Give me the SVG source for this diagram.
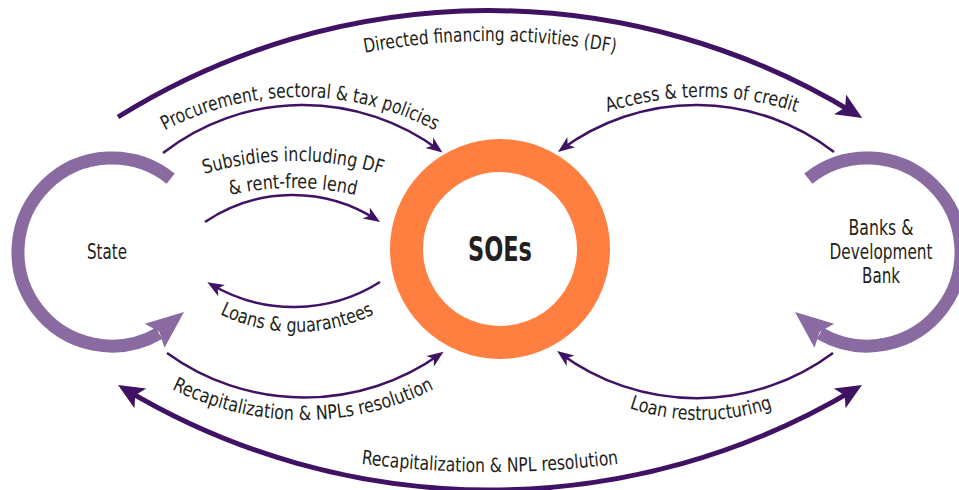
<svg xmlns="http://www.w3.org/2000/svg" xmlns:xlink="http://www.w3.org/1999/xlink" width="959" height="490" viewBox="0 0 959 490">
<style>
.lbl{font-family:'Liberation Sans Narrow','DejaVu Sans Condensed','Liberation Sans',sans-serif;font-size:19.5px;fill:#231F20;}
.node{font-family:'Liberation Sans Narrow','DejaVu Sans Condensed','Liberation Sans',sans-serif;font-size:22px;fill:#231F20;text-anchor:middle;}
.soe{font-family:'Liberation Sans Narrow','DejaVu Sans Condensed','Liberation Sans',sans-serif;font-size:34px;font-weight:bold;fill:#231F20;text-anchor:middle;}
.thin{fill:none;stroke:#3F1263;stroke-width:2.5;marker-end:url(#ah);}
.thick{fill:none;stroke:#3F1263;stroke-width:5;}
.loop{fill:none;stroke:#8A6BA1;stroke-width:13;}
.head{fill:#8A6BA1;}
</style>
<defs>
<marker id="ah" markerUnits="userSpaceOnUse" viewBox="-14 -8 20 16" refX="0" refY="0" markerWidth="20" markerHeight="16" orient="auto">
<path d="M4,0 L-12.5,-6.5 L-8,0 L-12.5,6.5 Z" fill="#3F1263"/>
</marker>
<marker id="AH" markerUnits="userSpaceOnUse" viewBox="-20 -13 30 26" refX="0" refY="0" markerWidth="30" markerHeight="26" orient="auto-start-reverse">
<path d="M8,0 L-18,-11.5 L-12,0 L-18,11.5 Z" fill="#3F1263"/>
</marker>
<path id="t-df" d="M154.5,130.9 A671,671 0 0 1 825.5,130.9"/>
<path id="t-proc" d="M48.9,242 A290,290 0 0 1 551.1,242"/>
<path id="t-acc" d="M437.9,249.5 A305,305 0 0 1 966.1,249.5"/>
<path id="t-sub1" d="M25.4,315.5 A309,309 0 0 1 560.6,315.5"/>
<path id="t-sub2" d="M47.9,329.5 A283,283 0 0 1 538.1,329.5"/>
<path id="t-loans" d="M144.6,244 A176,176 0 0 0 449.4,244"/>
<path id="t-recap1" d="M50.1,274 A292,292 0 0 0 555.9,274"/>
<path id="t-restr" d="M511.3,310.5 A219,219 0 0 0 890.7,310.5"/>
<path id="t-recap2" d="M148,411.7 A1000,1000 0 0 0 832,411.7"/>
</defs>

<g id="state">
<path class="loop" d="M170.7,178.6 A94,94 0 1 0 159,333.4"/>
<polygon class="head" points="184,312 164.5,347.8 159.4,332 144.9,323.8"/>
<text class="node" x="107" y="259" textLength="40" lengthAdjust="spacingAndGlyphs">State</text>
</g>

<g id="banks">
<path class="loop" d="M808.3,178.6 A94,94 0 1 1 820,333.4"/>
<polygon class="head" points="795,312 814.5,347.8 819.6,332 834.1,323.8"/>
<text class="node" x="881" y="235" textLength="65" lengthAdjust="spacingAndGlyphs">Banks &amp;</text>
<text class="node" x="881" y="259" textLength="103" lengthAdjust="spacingAndGlyphs">Development</text>
<text class="node" x="881" y="283" textLength="38" lengthAdjust="spacingAndGlyphs">Bank</text>
</g>

<g id="soes">
<circle cx="500" cy="249" r="93.5" fill="none" stroke="#FF7F41" stroke-width="33"/>
<text class="soe" x="500" y="261" textLength="64" lengthAdjust="spacingAndGlyphs">SOEs</text>
</g>

<g id="connectors">
<path class="thick" d="M118,117 A701,701 0 0 1 855.4,113.8" marker-end="url(#AH)"/>
<path class="thick" d="M124.9,389.1 A711,711 0 0 0 855.1,389.1" marker-start="url(#AH)" marker-end="url(#AH)"/>
<path class="thin" d="M163,153 A228,228 0 0 1 439.3,150.2"/>
<path class="thin" d="M834,152 A226,226 0 0 0 561.2,149.6"/>
<path class="thin" d="M205,222 A155.3,155.3 0 0 1 376.7,219.8"/>
<path class="thin" d="M380,282 A162,162 0 0 1 210.8,284.3"/>
<path class="thin" d="M167,353 A234,234 0 0 0 440.3,354"/>
<path class="thin" d="M833,353 A229,229 0 0 1 560.4,353.4"/>
</g>

<g id="labels">
<text class="lbl"><textPath xlink:href="#t-df" href="#t-df" startOffset="50%" text-anchor="middle" textLength="252" lengthAdjust="spacingAndGlyphs">Directed financing activities (DF)</textPath></text>
<text class="lbl"><textPath xlink:href="#t-proc" href="#t-proc" startOffset="50%" text-anchor="middle" textLength="281" lengthAdjust="spacingAndGlyphs">Procurement, sectoral &amp; tax policies</textPath></text>
<text class="lbl"><textPath xlink:href="#t-acc" href="#t-acc" startOffset="50%" text-anchor="middle" textLength="192" lengthAdjust="spacingAndGlyphs">Access &amp; terms of credit</textPath></text>
<text class="lbl"><textPath xlink:href="#t-sub1" href="#t-sub1" startOffset="50%" text-anchor="middle" textLength="180" lengthAdjust="spacingAndGlyphs">Subsidies including DF</textPath></text>
<text class="lbl"><textPath xlink:href="#t-sub2" href="#t-sub2" startOffset="50%" text-anchor="middle" textLength="127" lengthAdjust="spacingAndGlyphs">&amp; rent-free lend</textPath></text>
<text class="lbl"><textPath xlink:href="#t-loans" href="#t-loans" startOffset="50%" text-anchor="middle" textLength="160" lengthAdjust="spacingAndGlyphs">Loans &amp; guarantees</textPath></text>
<text class="lbl"><textPath xlink:href="#t-recap1" href="#t-recap1" startOffset="50%" text-anchor="middle" textLength="272" lengthAdjust="spacingAndGlyphs">Recapitalization &amp; NPLs resolution</textPath></text>
<text class="lbl"><textPath xlink:href="#t-restr" href="#t-restr" startOffset="50%" text-anchor="middle" textLength="146" lengthAdjust="spacingAndGlyphs">Loan restructuring</textPath></text>
<text class="lbl"><textPath xlink:href="#t-recap2" href="#t-recap2" startOffset="50%" text-anchor="middle" textLength="258" lengthAdjust="spacingAndGlyphs">Recapitalization &amp; NPL resolution</textPath></text>
</g>
</svg>
